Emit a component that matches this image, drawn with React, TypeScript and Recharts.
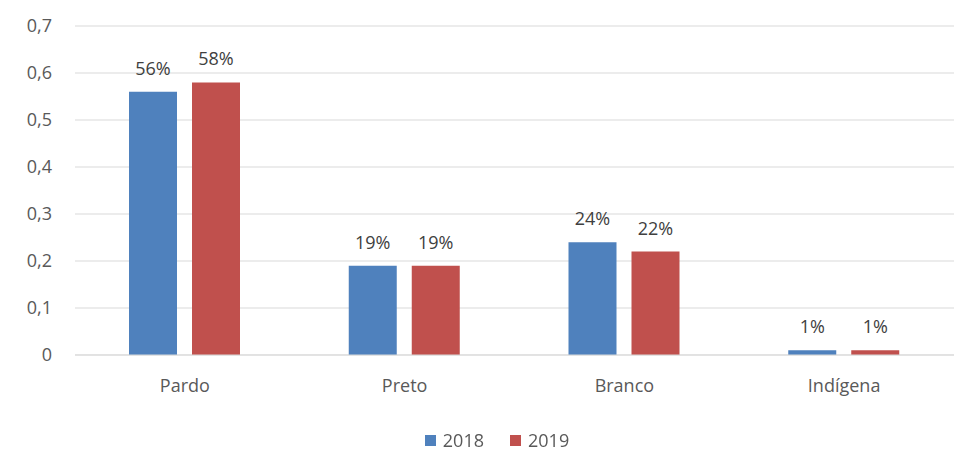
import { Bar, BarChart, CartesianGrid, LabelList, Legend, XAxis, YAxis } from "recharts";

const categories = ["Pardo", "Preto", "Branco", "Indígena"];
const values2018 = [0.56, 0.19, 0.24, 0.01];
const values2019 = [0.58, 0.19, 0.22, 0.01];
const yTicks = [0, 0.1, 0.2, 0.3, 0.4, 0.5, 0.6, 0.7];

const data = categories.map((name, i) => ({ name, y2018: values2018[i], y2019: values2019[i] }));

const FONT = "'Open Sans', sans-serif";
const TEXT = "#595959";

const pct = (v: any) => `${Math.round(Number(v) * 100)}%`;

function LegendContent({ payload }: any) {
  return (
    <div style={{ display: "flex", justifyContent: "center", gap: 26, fontFamily: FONT, fontSize: 18, lineHeight: "24px", color: TEXT, paddingLeft: 40, paddingTop: 17 }}>
      {(payload || []).map((p: any) => (
        <span key={p.value} style={{ display: "flex", alignItems: "center", gap: 7 }}>
          <span style={{ width: 11, height: 11, background: p.color, display: "inline-block" }} />
          {p.value}
        </span>
      ))}
    </div>
  );
}

export default function App() {
  return (
    <div style={{ position: "fixed", left: 0, top: 0, width: 954, height: 451, background: "#fff" }}>
      <BarChart
        width={954}
        height={451}
        data={data}
        margin={{ top: 26, right: 0, bottom: 0, left: 0 }}
        barCategoryGap={54}
        barGap={15}
      >
        <CartesianGrid vertical={false} stroke="#d9d9d9" />
        <XAxis
          dataKey="name"
          tickLine={false}
          axisLine={{ stroke: "#d9d9d9" }}
          height={56}
          tickMargin={18}
          tick={{ fontFamily: FONT, fontSize: 18, fill: TEXT }}
        />
        <YAxis
          domain={[0, 0.7]}
          ticks={yTicks}
          width={75}
          axisLine={false}
          tickLine={false}
          tickMargin={17}
          tickFormatter={(v) => String(v).replace(".", ",")}
          tick={{ fontFamily: FONT, fontSize: 18, fill: TEXT }}
        />
        <Legend verticalAlign="bottom" height={40} content={<LegendContent />} />
        <Bar dataKey="y2018" name="2018" fill="#4f81bd" isAnimationActive={false}>
          <LabelList dataKey="y2018" position="top" offset={17} formatter={pct} style={{ fontFamily: FONT, fontSize: 18, fill: "#404040" }} />
        </Bar>
        <Bar dataKey="y2019" name="2019" fill="#c0504d" isAnimationActive={false}>
          <LabelList dataKey="y2019" position="top" offset={17} formatter={pct} style={{ fontFamily: FONT, fontSize: 18, fill: "#404040" }} />
        </Bar>
      </BarChart>
    </div>
  );
}
